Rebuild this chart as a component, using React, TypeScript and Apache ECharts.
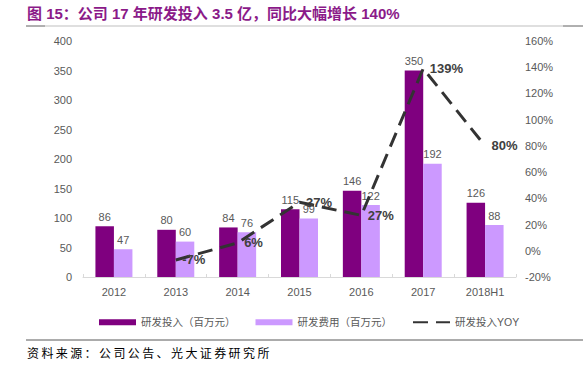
import React, { useEffect, useRef } from "react";
import * as echarts from "echarts";

const categories = ["2012", "2013", "2014", "2015", "2016", "2017", "2018H1"];
const rdInvest = [86, 80, 84, 115, 146, 350, 126];
const rdExpense = [47, 60, 76, 99, 122, 192, 88];
const rdYoy: (number | string)[] = ["-", -7, 6, 37, 27, 139, 80];

const titleText = "图 15：公司 17 年研发投入 3.5 亿，同比大幅增长 140%";
const sourceText = "资料来源：公司公告、光大证券研究所";
const seriesNames = ["研发投入（百万元）", "研发费用（百万元）", "研发投入YOY"];

const FONT = "'Liberation Sans', 'Noto Sans CJK SC', sans-serif";

export default function App() {
  const ref = useRef<HTMLDivElement>(null);
  useEffect(() => {
    if (!ref.current) return;
    const chart = echarts.init(ref.current, null, { renderer: "svg" });
    const sourceChars = Array.from(sourceText).map((ch, i) => ({
      type: "text",
      left: 27 + i * 14.4,
      top: 346,
      style: {
        text: ch,
        fill: "#000000",
        font: "12px 'Noto Sans CJK SC', sans-serif",
      },
    }));
    chart.setOption({
      animation: false,
      backgroundColor: "#ffffff",
      textStyle: { fontFamily: FONT },
      graphic: [
        {
          type: "text",
          left: 27,
          top: 6,
          style: {
            text: titleText,
            fill: "#8B1A89",
            font: "bold 15px 'Liberation Sans', 'Noto Sans CJK SC', sans-serif",
          },
        },
        {
          type: "line",
          shape: { x1: 26, y1: 26, x2: 583, y2: 26 },
          style: { stroke: "#bfbfbf", lineWidth: 1 },
        },
        {
          type: "line",
          shape: { x1: 26, y1: 26, x2: 45, y2: 26 },
          style: { stroke: "#808080", lineWidth: 1 },
        },
        {
          type: "line",
          shape: { x1: 563, y1: 26, x2: 583, y2: 26 },
          style: { stroke: "#808080", lineWidth: 1 },
        },
        {
          type: "line",
          shape: { x1: 26, y1: 340, x2: 583, y2: 340 },
          style: { stroke: "#595959", lineWidth: 1 },
        },
        ...sourceChars,
      ],
      legend: {
        left: 94,
        top: 312,
        itemGap: 20,
        itemWidth: 37,
        itemHeight: 6,
        textStyle: { color: "#595959", fontSize: 10.5, fontFamily: FONT },
        data: [
          { name: seriesNames[0], icon: "rect" },
          { name: seriesNames[1], icon: "rect" },
          { name: seriesNames[2] },
        ],
      },
      grid: { left: 83, right: 67, top: 41, bottom: 92, containLabel: false },
      xAxis: {
        type: "category",
        data: categories,
        axisLine: { lineStyle: { color: "#d9d9d9" } },
        axisTick: { show: true, inside: true, length: 3, lineStyle: { color: "#d9d9d9" } },
        axisLabel: { color: "#595959", fontSize: 11, margin: 9, fontFamily: FONT },
      },
      yAxis: [
        {
          type: "value",
          min: 0,
          max: 400,
          interval: 50,
          splitLine: { show: false },
          axisLine: { show: false },
          axisTick: { show: false },
          axisLabel: { color: "#595959", fontSize: 11, margin: 11, fontFamily: FONT },
        },
        {
          type: "value",
          min: -20,
          max: 160,
          interval: 20,
          splitLine: { show: false },
          axisLine: { show: false, lineStyle: { color: "#595959" } },
          axisTick: { show: false },
          axisLabel: {
            color: "#595959",
            fontSize: 11,
            margin: 9,
            formatter: "{value}%",
            fontFamily: FONT,
          },
        },
      ],
      series: [
        {
          name: seriesNames[0],
          type: "bar",
          data: rdInvest,
          barWidth: 18.5,
          barGap: "0%",
          itemStyle: { color: "#7F007F" },
          label: { show: true, position: "top", color: "#595959", fontSize: 11, distance: 4 },
        },
        {
          name: seriesNames[1],
          type: "bar",
          data: rdExpense,
          barWidth: 18.5,
          barGap: "0%",
          itemStyle: { color: "#CC99FF" },
          label: { show: true, position: "top", color: "#595959", fontSize: 11, distance: 4 },
        },
        {
          name: seriesNames[2],
          type: "line",
          yAxisIndex: 1,
          data: rdYoy,
          symbol: "circle",
          symbolSize: 1,
          showSymbol: true,
          z: 5,
          lineStyle: { color: "#333333", width: 3, type: [15, 8] },
          itemStyle: { color: "rgba(0,0,0,0)", borderWidth: 0 },
          label: {
            show: true,
            position: "right",
            distance: 6,
            color: "#404040",
            fontSize: 13,
            fontWeight: "bold",
            formatter: "{c}%",
          },
        },
      ],
    });
    return () => chart.dispose();
  }, []);
  return (
    <div
      ref={ref}
      style={{ width: 583, height: 369, position: "absolute", left: 0, top: 0 }}
    />
  );
}
